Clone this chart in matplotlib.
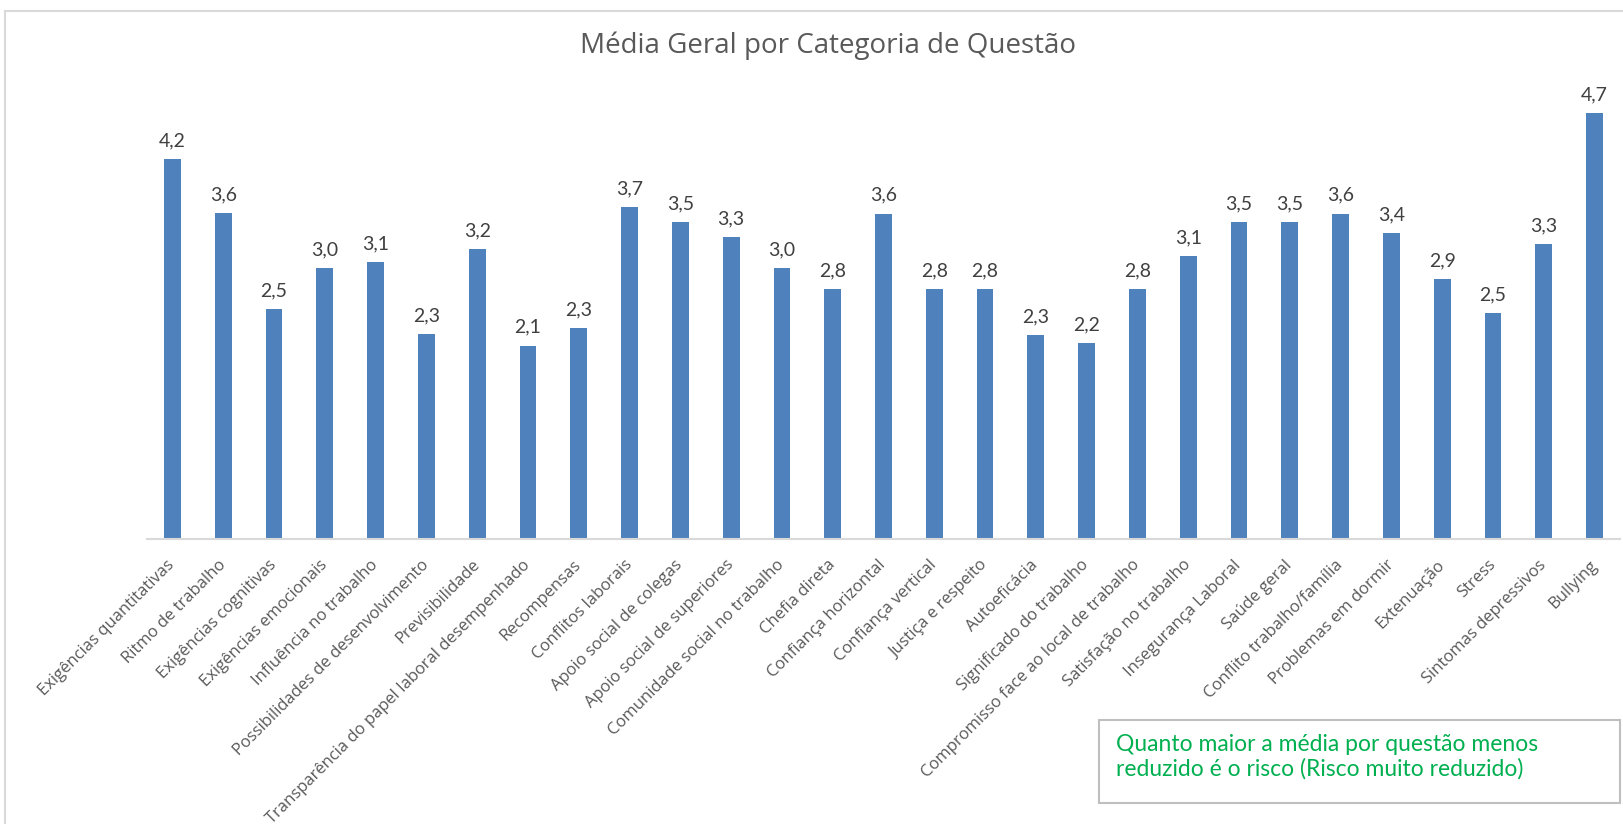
import matplotlib
matplotlib.use("Agg")
import matplotlib.pyplot as plt
from matplotlib.lines import Line2D
from matplotlib.patches import Rectangle

categories = [
    "Exigências quantitativas", "Ritmo de trabalho", "Exigências cognitivas",
    "Exigências emocionais", "Influência no trabalho",
    "Possibilidades de desenvolvimento", "Previsibilidade",
    "Transparência do papel laboral desempenhado", "Recompensas",
    "Conflitos laborais", "Apoio social de colegas", "Apoio social de superiores",
    "Comunidade social no trabalho", "Chefia direta", "Confiança horizontal",
    "Confiança vertical", "Justiça e respeito", "Autoeficácia",
    "Significado do trabalho", "Compromisso face ao local de trabalho",
    "Satisfação no trabalho", "Insegurança Laboral", "Saúde geral",
    "Conflito trabalho/família", "Problemas em dormir", "Extenuação", "Stress",
    "Sintomas depressivos", "Bullying",
]
means = [4.20, 3.61, 2.54, 3.00, 3.06, 2.27, 3.21, 2.14, 2.33, 3.67, 3.51, 3.34,
         3.00, 2.76, 3.60, 2.76, 2.76, 2.26, 2.17, 2.76, 3.13, 3.51, 3.51, 3.60,
         3.38, 2.88, 2.50, 3.26, 4.71]

title = "Média Geral por Categoria de Questão"
note = "Quanto maior a média por questão menos\nreduzido é o risco (Risco muito reduzido)"

W, H = 1623, 824
fig = plt.figure(figsize=(W / 100, H / 100), dpi=100)

# chart frame
fig.add_artist(Line2D([5 / W, 5 / W], [0, 1 - 11 / H], transform=fig.transFigure,
                      color="#d9d9d9", lw=1.5))
fig.add_artist(Line2D([5 / W, 1], [1 - 11 / H, 1 - 11 / H], transform=fig.transFigure,
                      color="#d9d9d9", lw=1.5))

left, right = 147 / W, 1620 / W
bottom, top = 1 - 539 / H, 1 - 87 / H
ax = fig.add_axes([left, bottom, right - left, top - bottom])

x = range(len(categories))
bars = ax.bar(x, means, width=0.33, color="#4F81BD", zorder=2)
ax.set_xlim(-0.5, len(categories) - 0.5)
ax.set_ylim(0, 5)

for rect, v in zip(bars, means):
    ax.annotate(f"{v:.1f}".replace(".", ","),
                (rect.get_x() + rect.get_width() / 2, rect.get_height()),
                xytext=(0, 7), textcoords="offset points", ha="center", va="bottom",
                fontsize=14, color="#404040", family="Lato")

for s in ["left", "right", "top"]:
    ax.spines[s].set_visible(False)
ax.spines["bottom"].set_color("#d9d9d9")
ax.spines["bottom"].set_linewidth(1.5)
ax.set_yticks([])
ax.set_xticks(list(x))
ax.set_xticklabels(categories, rotation=45, ha="right", va="center",
                   rotation_mode="anchor", fontsize=12, color="#595959",
                   family="Open Sans")
ax.tick_params(axis="x", length=0, pad=17)

fig.text(828 / W, 1 - 46 / H, title, ha="center", va="center", fontsize=20,
         color="#595959", family="Open Sans")

# annotation box
fig.add_artist(Rectangle((1099 / W, 1 - 803 / H), (1620 - 1099) / W, (803 - 720) / H,
                         transform=fig.transFigure, fill=False, edgecolor="#bfbfbf",
                         lw=1.5))
fig.text(1116 / W, 1 - 757 / H, note, ha="left", va="center", fontsize=16.5,
         color="#00B050", family="Lato", linespacing=1.2)

fig.savefig("out.png", dpi=100)
